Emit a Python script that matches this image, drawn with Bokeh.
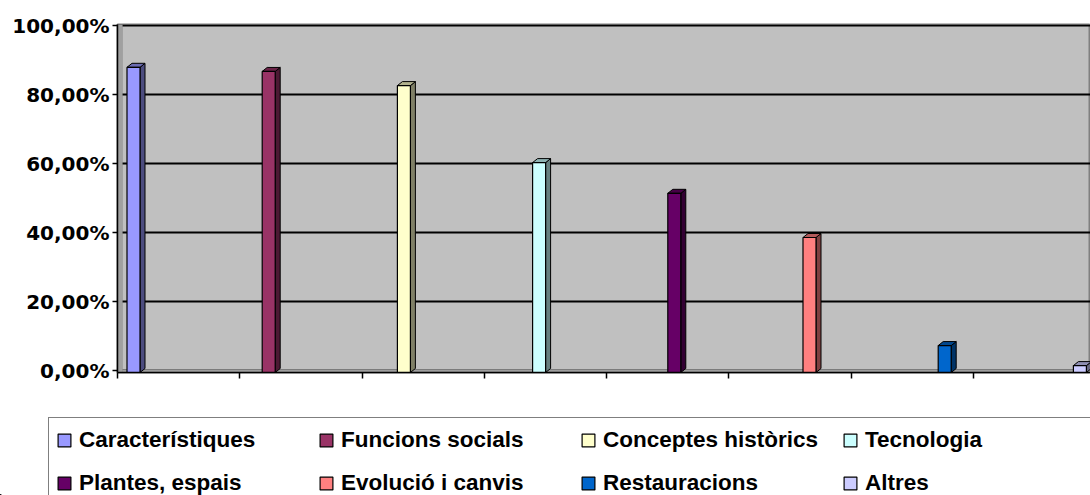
from bokeh.plotting import figure
from bokeh.layouts import column
from bokeh.models import Range1d, FixedTicker, Legend, LegendItem, BoxAnnotation
from bokeh.embed import file_html
from bokeh.resources import INLINE

categories = ["Característiques", "Funcions socials", "Conceptes històrics", "Tecnologia",
              "Plantes, espais", "Evolució i canvis", "Restauracions", "Altres"]
values = [87.9, 86.7, 82.6, 60.3, 51.4, 38.6, 7.3, 1.5]
colors = ["#9999FF", "#993366", "#FFFFCC", "#CCFFFF", "#660066", "#FF8080", "#0066CC", "#CCCCFF"]
y_ticks = [0, 20, 40, 60, 80, 100]
y_tick_labels = ["0,00%", "20,00%", "40,00%", "60,00%", "80,00%", "100,00%"]


def shade(hexcol, f):
    h = hexcol.lstrip("#")
    r, g, b = (int(h[i:i + 2], 16) for i in (0, 2, 4))
    return "#%02x%02x%02x" % (int(r * f), int(g * f), int(b * f))


FRAME_W, FRAME_H = 973, 348
PITCH = 135.2                      # px per series slot
X0 = -16 / PITCH
x_range = Range1d(X0, X0 + FRAME_W / PITCH)
y_range = Range1d(-0.5, 100.3)
py = FRAME_H / (y_range.end - y_range.start)
dx = 5 / PITCH                     # 3-D depth offset (data units)
dy = 4 / py
hw = 6.5 / PITCH                   # half bar width

p = figure(frame_width=FRAME_W, frame_height=FRAME_H, x_range=x_range, y_range=y_range,
           output_backend="svg", toolbar_location=None,
           min_border_left=117, min_border_right=0, min_border_top=24, min_border_bottom=20,
           background_fill_color="#C0C0C0", border_fill_color="white")
p.frame_align = False

p.outline_line_color = "#808080"
p.outline_line_width = 2

# walls / floor of 3-D area
p.add_layout(BoxAnnotation(bottom=y_range.start, top=0 + dy * 0.3, fill_color="#a0a0a0", fill_alpha=1,
                           line_color="#707070", line_width=1, level="underlay"))
p.add_layout(BoxAnnotation(left=x_range.start, right=x_range.start + dx, fill_color="#a0a0a0", fill_alpha=1,
                           line_color="#808080", line_width=1, level="underlay"))

# grid
p.xgrid.visible = False
p.ygrid.ticker = FixedTicker(ticks=y_ticks)
p.ygrid.grid_line_color = "black"
p.ygrid.grid_line_width = 2

# y axis
p.yaxis.ticker = FixedTicker(ticks=y_ticks)
p.yaxis.major_label_overrides = {t: l for t, l in zip(y_ticks, y_tick_labels)}
p.yaxis.major_label_text_font = "DejaVu Sans"
p.yaxis.major_label_text_font_style = "bold"
p.yaxis.major_label_text_font_size = "20px"
p.yaxis.major_label_text_color = "black"
p.yaxis.major_label_standoff = 3
p.yaxis.major_tick_out = 5
p.yaxis.major_tick_in = 0
p.yaxis.minor_tick_line_color = None
p.yaxis.axis_line_width = 1.5
p.yaxis.major_tick_line_width = 1.5

# x axis: category boundary ticks only (as minor ticks, so no labels are drawn)
n = len(categories)
seg = (FRAME_W + 5) / PITCH / n
p.xaxis.ticker = FixedTicker(ticks=[], minor_ticks=[x_range.start + 1e-6 + k * seg for k in range(n)])
p.xaxis.minor_tick_out = 6
p.xaxis.minor_tick_in = 0
p.xaxis.minor_tick_line_color = "black"
p.xaxis.minor_tick_line_width = 1.5
p.xaxis.axis_line_width = 1.5

base = y_range.start
for i, (cat, v, c) in enumerate(zip(categories, values, colors)):
    x0, x1 = i - hw, i + hw
    # side face
    p.patch([x1, x1 + dx, x1 + dx, x1], [base, base + dy, v + dy, v],
            fill_color=shade(c, 0.5), line_color="black", line_width=1)
    # top face
    p.patch([x0, x1, x1 + dx, x0 + dx], [v, v, v + dy, v + dy],
            fill_color=shade(c, 0.7), line_color="black", line_width=1)
    p.vbar(x=[i], top=[v], bottom=base, width=2 * hw, fill_color=c,
           line_color="black", line_width=1.2)

# legend panel (separate figure so that the legend box can run past the edges)
LEG_W, LEG_H = 1090, 103
p2 = figure(width=LEG_W, height=LEG_H, x_range=Range1d(0, LEG_W), y_range=Range1d(0, LEG_H),
            output_backend="svg", toolbar_location=None, min_border=0,
            x_axis_location=None, y_axis_location=None,
            background_fill_color="white", border_fill_color="white")
p2.frame_align = False
p2.outline_line_color = None
p2.grid.visible = False

items = []
for cat, c in zip(categories, colors):
    # swatch source for the legend glyph (kept outside the visible range)
    r = p2.vbar(x=[-100], top=[1], width=1, fill_color=c, line_color="black", line_width=1.2)
    items.append(LegendItem(label=cat, renderers=[r]))

legend = Legend(items=items, location=(48, -11), orientation="horizontal", ncols=4,
                glyph_width=16, glyph_height=16, label_standoff=7, label_width=226,
                label_height=30, spacing=13, padding=7, margin=0,
                border_line_color="black", border_line_width=1.5,
                background_fill_color="white", background_fill_alpha=1,
                label_text_font="Liberation Sans", label_text_font_style="bold",
                label_text_font_size="22.5px", label_text_color="black")
p2.add_layout(legend)

layout = column(p, p2, spacing=0)
open("out.html", "w").write(file_html(layout, INLINE))
